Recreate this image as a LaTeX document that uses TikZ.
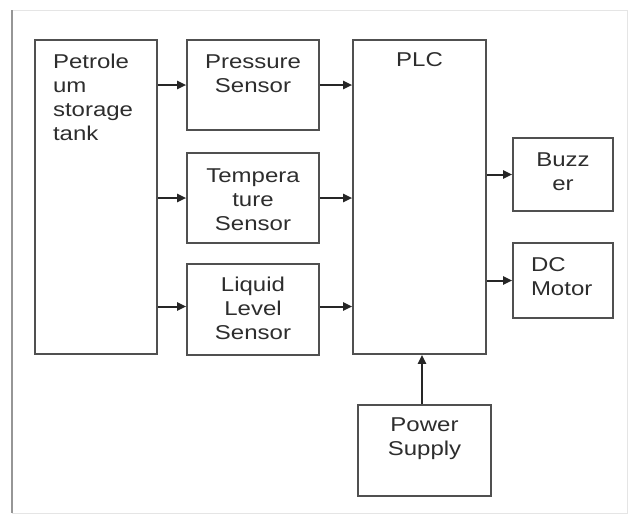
\documentclass[tikz,border=0pt]{standalone}
\usepackage{fontspec}
\setmainfont{Liberation Sans}[FakeStretch=1.2]
\usetikzlibrary{arrows.meta}
\definecolor{boxgrey}{RGB}{80,80,80}
\definecolor{textgrey}{RGB}{45,45,45}
\definecolor{framegrey}{RGB}{150,150,150}

\begin{document}
\begin{tikzpicture}[
      x=1pt, y=-1pt,
      box/.style={rectangle, draw=boxgrey, line width=1.6pt, inner xsep=2pt, inner ysep=0pt, text width=96pt, text height=15pt, align=center, text=textgrey, font=\fontsize{20}{24}\selectfont},
      arrow/.style={-{Triangle[length=9pt,width=8pt]}, line width=2pt, black!85}
    ]
      \useasboundingbox (0,0) rectangle (637,515);
      % page frame
      \draw[framegrey!25, line width=1pt] (12,10) rectangle (627,513);
      \draw[framegrey, line width=1.2pt] (12,10) -- (12,513);

      \node[box, minimum width=122pt, minimum height=314pt, text width=86pt, align=left, text depth=273pt] (tank) at (96,197) {Petrole\\um\\storage\\tank};
      \node[box, minimum width=132pt, minimum height=90pt, text depth=49pt] (pressure) at (253,85) {Pressure\\Sensor};
      \node[box, minimum width=132pt, minimum height=90pt, text depth=47pt] (temp) at (253,198) {Tempera\\ture\\Sensor};
      \node[box, minimum width=132pt, minimum height=91pt, text depth=51pt] (level) at (253,309.5) {Liquid\\Level\\Sensor};
      \node[box, minimum width=133pt, minimum height=314pt, text depth=276pt] (plc) at (419.5,197) {PLC};
      \node[box, minimum width=100pt, minimum height=73pt, text depth=31pt] (buzzer) at (563,174.5) {Buzz\\er};
      \node[box, minimum width=100pt, minimum height=75pt, text depth=33pt, text width=64pt, align=left] (motor) at (563,280.5) {DC\\Motor};
      \node[box, minimum width=133pt, minimum height=91pt, text depth=53pt] (power) at (424.5,450.5) {Power\\Supply};

      \draw[arrow] (tank.east |- pressure.west) -- (pressure.west);
      \draw[arrow] (tank.east |- temp.west) -- (temp.west);
      \draw[arrow] ([yshift=3pt]tank.east |- level.west) -- ([yshift=3pt]level.west);
      \draw[arrow] (pressure.east) -- (plc.west |- pressure.east);
      \draw[arrow] (temp.east) -- (plc.west |- temp.east);
      \draw[arrow] ([yshift=3pt]level.east) -- ([yshift=3pt]plc.west |- level.east);
      \draw[arrow] (plc.east |- buzzer.west) -- (buzzer.west);
      \draw[arrow] (plc.east |- motor.west) -- (motor.west);
      \draw[arrow, line width=2.5pt] ([xshift=-2.5pt]power.north) -- ([xshift=-2.5pt]plc.south -| power.north);
    \end{tikzpicture}
\end{document}
